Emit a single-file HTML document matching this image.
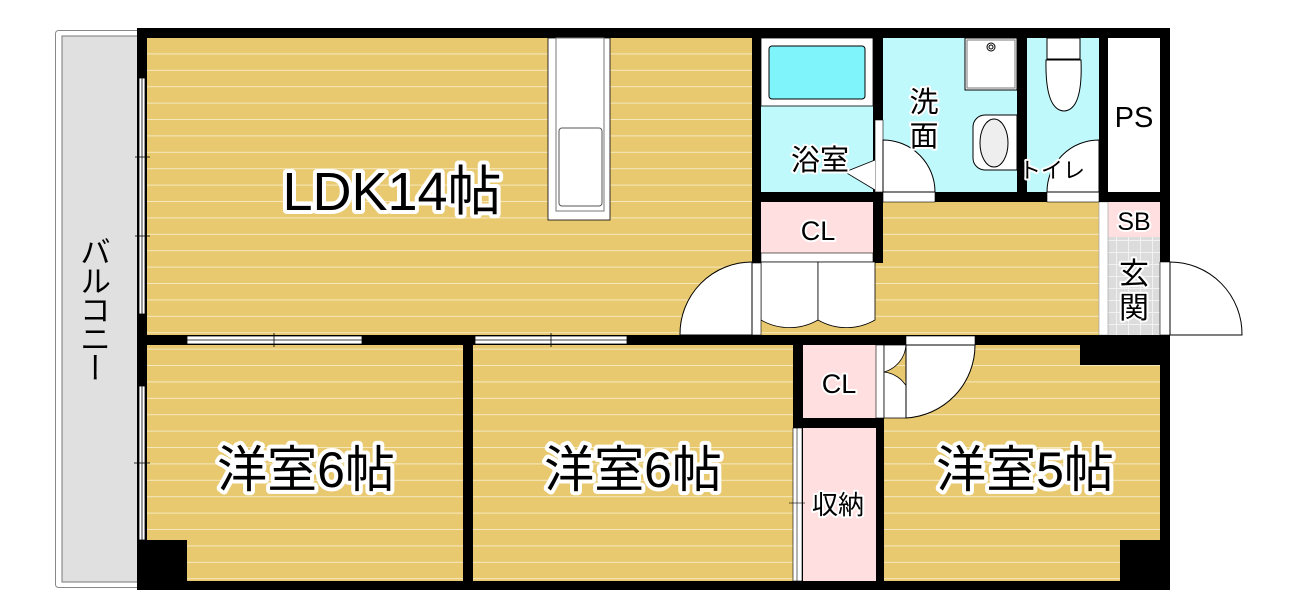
<!DOCTYPE html>
<html><head><meta charset="utf-8"><style>
html,body{margin:0;padding:0;background:#fff;}
svg{display:block;}
text{font-family:"Liberation Sans","Noto Sans CJK JP",sans-serif;}
.lb{fill:#000;stroke:#fff;stroke-width:8px;paint-order:stroke;stroke-linejoin:round;}
.sm{fill:#000;stroke:#fff;stroke-width:4px;paint-order:stroke;stroke-linejoin:round;}
#bal{position:absolute;left:80px;top:236px;writing-mode:vertical-rl;font-family:"Noto Sans CJK JP",sans-serif;font-size:31px;line-height:1;color:#000;letter-spacing:-2px;}
</style></head><body>
<div style="position:relative;width:1302px;height:614px;">
<svg width="1302" height="614" viewBox="0 0 1302 614" xmlns="http://www.w3.org/2000/svg">
<defs>
<pattern id="fl" patternUnits="userSpaceOnUse" x="0" y="38" width="20" height="16.4">
<rect width="20" height="16.4" fill="#e8c96f"/>
<rect y="15.4" width="20" height="1.2" fill="#f6e8bd"/>
</pattern>
<pattern id="tile" patternUnits="userSpaceOnUse" width="12" height="12">
<rect width="12" height="12" fill="#dcdcdc"/>
<path d="M0 0.5H12M0.5 0V12" stroke="#f2f2f2" stroke-width="1"/>
</pattern>
</defs>
<rect x="55.5" y="30.5" width="90" height="557" rx="3" fill="#fff" stroke="#888"/>
<rect x="62" y="36" width="76" height="546" fill="#e0e0e0" stroke="#777"/>
<rect x="137" y="28" width="1033" height="562" fill="#000"/>
<rect x="147" y="38" width="605" height="297" fill="url(#fl)"/>
<rect x="761" y="202" width="338" height="133" fill="url(#fl)"/>
<rect x="147" y="345" width="316" height="236" fill="url(#fl)"/>
<rect x="473" y="345" width="320" height="236" fill="url(#fl)"/>
<rect x="884" y="345" width="276" height="236" fill="url(#fl)"/>
<rect x="1080" y="345" width="80" height="20" fill="#000"/>
<rect x="1120" y="540" width="40" height="41" fill="#000"/>
<rect x="147" y="540" width="40" height="41" fill="#000"/>
<rect x="761" y="38" width="112" height="154" fill="#bff9fb"/>
<rect x="761" y="38" width="112" height="68" fill="#fff" stroke="#000" stroke-width="0.8"/>
<rect x="769" y="46" width="96" height="53" rx="3" fill="#7ff4fb" stroke="#000"/>
<rect x="883" y="38" width="134" height="154" fill="#bff9fb"/>
<rect x="1027" y="38" width="72" height="154" fill="#bff9fb"/>
<rect x="1108" y="38" width="52" height="154" fill="#fff"/>
<rect x="761" y="202" width="112" height="51" fill="#ffdfdf"/>
<rect x="1108" y="202" width="52" height="35" fill="#ffdfdf"/>
<rect x="1108" y="237" width="52" height="98" fill="url(#tile)"/>
<rect x="1099" y="202" width="9" height="133" fill="#fff" stroke="#999" stroke-width="0.6"/>
<rect x="965" y="38" width="52" height="52" fill="#fff" stroke="#000"/>
<rect x="967" y="40" width="48" height="48" fill="#fff" stroke="#777"/>
<circle cx="991" cy="47" r="4" fill="none" stroke="#000"/><circle cx="991" cy="47" r="2" fill="none" stroke="#000"/>
<path d="M1017 115 H985 a12 12 0 0 0 -12 12 V158 a12 12 0 0 0 12 12 H1017Z" fill="#fff" stroke="#000"/>
<ellipse cx="994" cy="143" rx="14" ry="24" fill="#eee" stroke="#000"/>
<rect x="1047" y="38" width="33" height="21" fill="#fff" stroke="#000"/>
<path d="M1046 60 Q1045 110 1064 111 Q1083 110 1081 60Z" fill="#fff" stroke="#000"/>
<rect x="752" y="38" width="9" height="225" fill="#000"/>
<rect x="873" y="38" width="10" height="225" fill="#000"/>
<rect x="1017" y="38" width="10" height="164" fill="#000"/>
<rect x="1099" y="38" width="9" height="164" fill="#000"/>
<rect x="761" y="192" width="399" height="10" fill="#000"/>
<rect x="1160" y="38" width="10" height="300" fill="#000"/>
<rect x="875" y="120" width="8" height="72" fill="#fff" stroke="#000" stroke-width="0.6"/>
<path d="M875 190 L845 172 L875 160" fill="#fff" stroke="#000" stroke-width="0.8"/>
<rect x="883" y="192" width="52" height="10" fill="#fff" stroke="#000" stroke-width="0.6"/>
<path d="M883 140 A52 52 0 0 1 935 192 H883Z" fill="#fff" stroke="#000"/>
<rect x="1047" y="192" width="52" height="10" fill="#fff" stroke="#000" stroke-width="0.6"/>
<path d="M1099 140 A52 52 0 0 0 1047 192 H1099Z" fill="#fff" stroke="#000"/>
<rect x="761" y="253" width="112" height="9" fill="#fff" stroke="#000" stroke-width="0.6"/>
<path d="M761 262 H818 V320 A57 57 0 0 1 761 320Z" fill="#fff" stroke="#000" stroke-width="0.8"/>
<path d="M875 262 H818 V320 A57 57 0 0 0 875 320Z" fill="#fff" stroke="#000" stroke-width="0.8"/>
<rect x="752" y="263" width="9" height="72" fill="#fff" stroke="#000" stroke-width="0.6"/>
<path d="M752 262 A72 72 0 0 0 680 335 H752Z" fill="#fff" stroke="#000"/>
<rect x="1160" y="262" width="10" height="73" fill="#fff" stroke="#000" stroke-width="0.6"/>
<path d="M1170 262 A72 72 0 0 1 1242 335 H1170Z" fill="#fff" stroke="#000"/>
<rect x="548" y="38" width="62" height="182" fill="#fff" stroke="#000" stroke-width="0.8"/>
<rect x="556" y="38" width="48" height="173" fill="#fff" stroke="#777"/>
<rect x="559" y="128" width="43" height="78" rx="3" fill="#fff" stroke="#555"/>
<rect x="147" y="335" width="1023" height="10" fill="#000"/>
<rect x="463" y="345" width="10" height="236" fill="#000"/>
<rect x="793" y="345" width="10" height="236" fill="#000"/>
<rect x="876" y="345" width="8" height="236" fill="#000"/>
<rect x="803" y="418" width="81" height="10" fill="#000"/>
<rect x="803" y="345" width="73" height="73" fill="#ffdfdf"/>
<rect x="803" y="428" width="73" height="153" fill="#ffdfdf"/>
<rect x="876" y="345" width="8" height="73" fill="#fff" stroke="#000" stroke-width="0.6"/>
<rect x="906" y="336" width="69" height="9" fill="#fff" stroke="#000" stroke-width="0.6"/>
<path d="M884 345 H906 A30 30 0 0 1 884 372 A30 30 0 0 1 906 418 H884Z" fill="#fff" stroke="#000" stroke-width="0.8"/>
<path d="M906 345 H975 A73 73 0 0 1 906 418Z" fill="#fff" stroke="#000"/>
<line x1="906" y1="345" x2="906" y2="418" stroke="#000"/>
<rect x="793" y="428" width="9" height="153" fill="#fff" stroke="#000" stroke-width="0.6"/>
<line x1="797" y1="428" x2="797" y2="581" stroke="#000" stroke-width="0.6"/>
<line x1="789" y1="503" x2="805" y2="503" stroke="#000" stroke-width="0.6"/>
<g fill="#fff" stroke="#000" stroke-width="0.8">
<rect x="139" y="78" width="6" height="236"/>
<rect x="139" y="386" width="6" height="154"/>
<rect x="187" y="336" width="175" height="8"/>
<rect x="475" y="336" width="152" height="8"/>
</g>
<g stroke="#000" stroke-width="0.8">
<line x1="142" y1="78" x2="142" y2="314"/><line x1="135" y1="157" x2="150" y2="157"/><line x1="135" y1="236" x2="150" y2="236"/>
<line x1="142" y1="386" x2="142" y2="540"/><line x1="134" y1="463" x2="150" y2="463"/>
<line x1="187" y1="340" x2="362" y2="340"/><line x1="274" y1="333" x2="274" y2="347"/>
<line x1="475" y1="340" x2="627" y2="340"/><line x1="551" y1="333" x2="551" y2="347"/>
</g>
<text x="392" y="210" class="lb" font-size="54" text-anchor="middle">LDK14帖</text>
<text x="306" y="487" class="lb" font-size="50" text-anchor="middle">洋室6帖</text>
<text x="633" y="487" class="lb" font-size="50" text-anchor="middle">洋室6帖</text>
<text x="1025" y="487" class="lb" font-size="50" text-anchor="middle">洋室5帖</text>
<text x="820" y="170" class="sm" font-size="29" text-anchor="middle">浴室</text>
<text x="924" y="112" class="sm" font-size="29" text-anchor="middle">洗</text>
<text x="924" y="146" class="sm" font-size="29" text-anchor="middle">面</text>
<text x="1052" y="178" class="sm" font-size="22" text-anchor="middle">トイレ</text>
<text x="1134" y="127" class="sm" font-size="29" text-anchor="middle">PS</text>
<text x="1134" y="230" class="sm" font-size="25" text-anchor="middle">SB</text>
<text x="1134" y="284" class="sm" font-size="30" text-anchor="middle">玄</text>
<text x="1134" y="318" class="sm" font-size="30" text-anchor="middle">関</text>
<text x="818" y="240" class="sm" font-size="27" text-anchor="middle">CL</text>
<text x="839" y="393" class="sm" font-size="27" text-anchor="middle">CL</text>
<text x="838" y="514" class="sm" font-size="26" text-anchor="middle">収納</text>
</svg>
<div id="bal">バルコニー</div>
</div>
</body></html>
